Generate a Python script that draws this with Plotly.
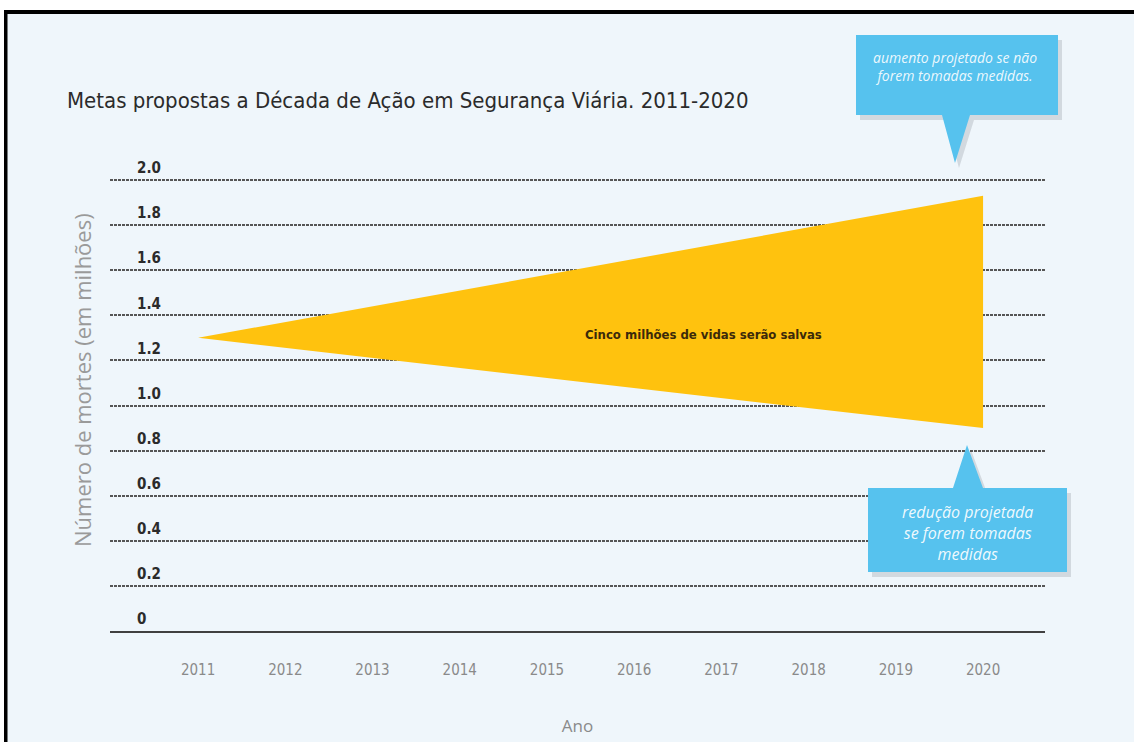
import plotly.graph_objects as go

# ---- data ----
years = [2011, 2012, 2013, 2014, 2015, 2016, 2017, 2018, 2019, 2020]
y_ticks = [0, 0.2, 0.4, 0.6, 0.8, 1.0, 1.2, 1.4, 1.6, 1.8, 2.0]
y_tick_labels = ["0", "0.2", "0.4", "0.6", "0.8", "1.0", "1.2", "1.4", "1.6", "1.8", "2.0"]
wedge_x = [2011, 2020, 2020]
wedge_y = [1.3, 1.93, 0.9]

title_text = "Metas propostas a Década de Ação em Segurança Viária. 2011-2020"
y_title = "Número de mortes (em milhões)"
x_title = "Ano"
center_label = "Cinco milhões de vidas serão salvas"
callout_up = "aumento projetado se não<br>forem tomadas medidas."
callout_down = "redução projetada<br>se forem tomadas<br>medidas"

# ---- layout geometry ----
FW, FH = 1134, 742
L, R, T, B = 110, 89, 150, 111
W = FW - L - R
H = FH - T - B

def px(x):
    return (x - L) / W

def py(y):
    return (T + H - y) / H

NARROW = "DejaVu Sans Condensed, Roboto, sans-serif"
LIGHT = "Open Sans, Noto Sans, sans-serif"
BG = "#EFF6FB"
BLUE = "#56C2EE"

fig = go.Figure()
fig.add_trace(go.Scatter(
    x=wedge_x, y=wedge_y, fill="toself", mode="lines",
    line=dict(width=0, color="#FFC20E"), fillcolor="#FFC20E",
    hoverinfo="skip", showlegend=False,
))

shapes = []
# frame: white strip + black lines at top and left
shapes.append(dict(type="rect", xref="paper", yref="paper", x0=px(0), x1=px(FW), y0=py(10), y1=py(0),
                   fillcolor="white", line=dict(width=0), layer="above"))
shapes.append(dict(type="rect", xref="paper", yref="paper", x0=px(0), x1=px(4), y0=py(FH), y1=py(0),
                   fillcolor="white", line=dict(width=0), layer="above"))
shapes.append(dict(type="rect", xref="paper", yref="paper", x0=px(4), x1=px(FW), y0=py(14), y1=py(10),
                   fillcolor="black", line=dict(width=0), layer="above"))
shapes.append(dict(type="rect", xref="paper", yref="paper", x0=px(4), x1=px(7.5), y0=py(FH), y1=py(10),
                   fillcolor="black", line=dict(width=0), layer="above"))


def callout_path(pts, dx=0, dy=0):
    s = ""
    for i, (x, y) in enumerate(pts):
        s += ("M" if i == 0 else "L") + f"{px(x + dx):.5f},{py(y + dy):.5f} "
    return s + "Z"

# top callout (pointer down)
up_pts = [(856, 35), (1058, 35), (1058, 115), (970, 115), (955, 163), (942, 115), (856, 115)]
# bottom callout (pointer up)
down_pts = [(868, 488), (953, 488), (967, 445), (983, 488), (1067, 488), (1067, 572), (868, 572)]
for pts in (up_pts, down_pts):
    shapes.append(dict(type="path", xref="paper", yref="paper", path=callout_path(pts, 4, 5),
                       fillcolor="rgba(60,70,80,0.16)", line=dict(width=0), layer="above"))
    shapes.append(dict(type="path", xref="paper", yref="paper", path=callout_path(pts),
                       fillcolor=BLUE, line=dict(width=0), layer="above"))

annotations = [
    dict(text=title_text, xref="paper", yref="paper", x=px(65), y=py(100), xanchor="left", yanchor="middle",
         showarrow=False, font=dict(family=NARROW, size=22, color="#2b2b2b")),
    dict(text=center_label, xref="paper", yref="paper", x=px(703), y=py(334), xanchor="center", yanchor="middle",
         showarrow=False, font=dict(family=NARROW, size=13, color="#3b2a0a", weight="bold")),
    dict(text=callout_up, xref="paper", yref="paper", x=px(955), y=py(66), xanchor="center", yanchor="middle",
         showarrow=False, align="center",
         font=dict(family=LIGHT, size=14, color="rgba(255,255,255,0.9)", style="italic")),
    dict(text=callout_down, xref="paper", yref="paper", x=px(967), y=py(533), xanchor="center", yanchor="middle",
         showarrow=False, align="center",
         font=dict(family=LIGHT, size=16, color="rgba(255,255,255,0.92)", style="italic")),
    dict(text=y_title, xref="paper", yref="paper", x=px(82), y=py(380), xanchor="center", yanchor="middle",
         textangle=-90, showarrow=False, font=dict(family=LIGHT, size=22, color="#9a9a9a")),
]

fig.update_layout(
    width=FW, height=FH,
    margin=dict(l=L, r=R, t=T, b=B, autoexpand=False),
    paper_bgcolor=BG, plot_bgcolor=BG,
    showlegend=False,
    shapes=shapes,
    annotations=annotations,
    xaxis=dict(
        range=[2009.99, 2020.71], tickmode="array", tickvals=years, ticktext=[str(y) for y in years],
        showgrid=False, zeroline=False, showline=True, linecolor="#404040", linewidth=2,
        ticks="", ticklabelstandoff=24,
        tickfont=dict(family=NARROW, size=15, color="#8a8a8a"),
        title=dict(text=x_title, standoff=42, font=dict(family=LIGHT, size=17, color="#8a8a8a")),
        fixedrange=True,
    ),
    yaxis=dict(
        range=[0, H / 225.5], tickmode="array", tickvals=y_ticks, ticktext=y_tick_labels,
        showgrid=True, gridcolor="#555555", gridwidth=2, griddash="3px,1px",
        zeroline=False, showline=False, ticks="",
        ticklabelposition="inside", ticklabelstandoff=24, ticklabelshift=-12,
        tickfont=dict(family=NARROW, size=15, color="#2b2b2b", weight="bold"),
        fixedrange=True,
    ),
)

fig.write_html("out.html")
